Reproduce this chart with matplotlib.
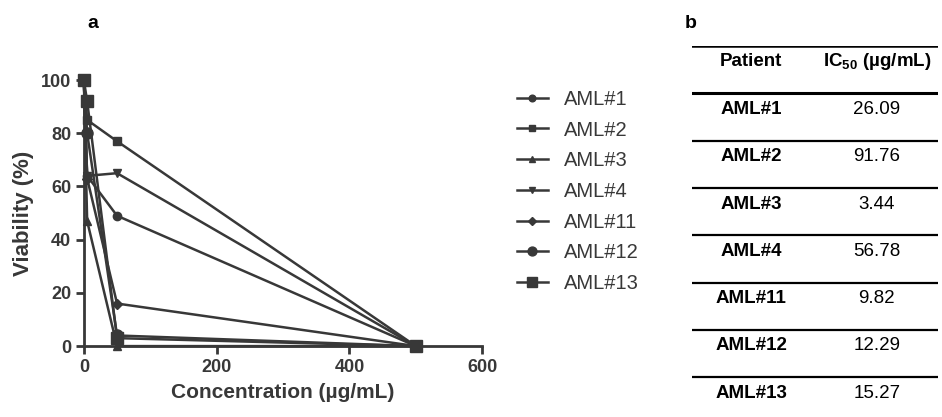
import numpy as np
import matplotlib.pyplot as plt
from matplotlib.lines import Line2D

plt.rcParams['font.family'] = ['Liberation Sans', 'DejaVu Sans']
plt.rcParams['mathtext.fontset'] = 'custom'
plt.rcParams['mathtext.rm'] = 'Liberation Sans:bold'
plt.rcParams['mathtext.bf'] = 'Liberation Sans:bold'

# data
conc = [0, 5, 50, 500]
patients = ['AML#1', 'AML#2', 'AML#3', 'AML#4', 'AML#11', 'AML#12', 'AML#13']
viability = [
    [100, 64, 49, 0],   # AML#1
    [100, 85, 77, 0],   # AML#2
    [100, 47, 0, 0],    # AML#3
    [100, 64, 65, 0],   # AML#4
    [100, 63, 16, 0],   # AML#11
    [100, 80, 4, 0],    # AML#12
    [100, 92, 3, 0],    # AML#13
]
markers = ['o', 's', '^', 'v', 'D', 'o', 's']
msizes = [6, 6, 6, 6, 5, 8, 9]
ic50 = ['26.09', '91.76', '3.44', '56.78', '9.82', '12.29', '15.27']

dark = '#383838'

fig = plt.figure(figsize=(9.42, 4.17), dpi=100)

# --- panel a: viability curves
ax = fig.add_axes([0.089, 0.170, 0.423, 0.638])
for name, vals, mk, ms in zip(patients, viability, markers, msizes):
    ax.plot(conc, vals, color=dark, lw=1.8, marker=mk, ms=ms,
            mfc=dark, mec=dark, label=name, clip_on=False)

ax.set_xlim(0, 600)
ax.set_ylim(0, 100)
ax.set_xticks([0, 200, 400, 600])
ax.set_yticks([0, 20, 40, 60, 80, 100])
for s in ['top', 'right']:
    ax.spines[s].set_visible(False)
for s in ['left', 'bottom']:
    ax.spines[s].set_linewidth(2)
    ax.spines[s].set_color(dark)
ax.tick_params(direction='out', length=6, width=2, color=dark,
               labelsize=13, labelcolor=dark, pad=3)
for lab in ax.get_xticklabels() + ax.get_yticklabels():
    lab.set_fontweight('bold')
ax.set_xlabel('Concentration (µg/mL)', fontsize=15, fontweight='bold', color=dark, labelpad=5)
ax.set_ylabel('Viability (%)', fontsize=16, fontweight='bold', color=dark, labelpad=5)

leg = fig.legend(loc='upper left', bbox_to_anchor=(0.530, 0.828), frameon=False,
                 fontsize=14.5, handlelength=1.5, handletextpad=0.8,
                 labelspacing=0.58, markerscale=0.8)
for t in leg.get_texts():
    t.set_color(dark)

fig.text(0.099, 0.943, 'a', fontsize=14, fontweight='bold', ha='center', va='center')
fig.text(0.733, 0.943, 'b', fontsize=14, fontweight='bold', ha='center', va='center')

# --- panel b: IC50 table
tab = fig.add_axes([0.735, 0.0276, 0.261, 0.862])
tab.set_xlim(0, 1)
tab.set_ylim(7.6, 0)
tab.axis('off')

tab.axhline(0, color='black', lw=1.8)
tab.axhline(1, color='black', lw=2.2)
for k in range(2, 8):
    tab.axhline(k, color='black', lw=1.6)

tab.text(0.24, 0.33, 'Patient', fontsize=13.5, fontweight='bold', ha='center', va='center')
tab.text(0.75, 0.33, 'IC$_{50}$ (µg/mL)', fontsize=13.5, fontweight='bold', ha='center', va='center')
for i, (p, v) in enumerate(zip(patients, ic50)):
    tab.text(0.24, i + 1.34, p, fontsize=13.5, fontweight='bold', ha='center', va='center')
    tab.text(0.75, i + 1.34, v, fontsize=13.5, ha='center', va='center')

fig.savefig('out.png', dpi=100, facecolor='white')
